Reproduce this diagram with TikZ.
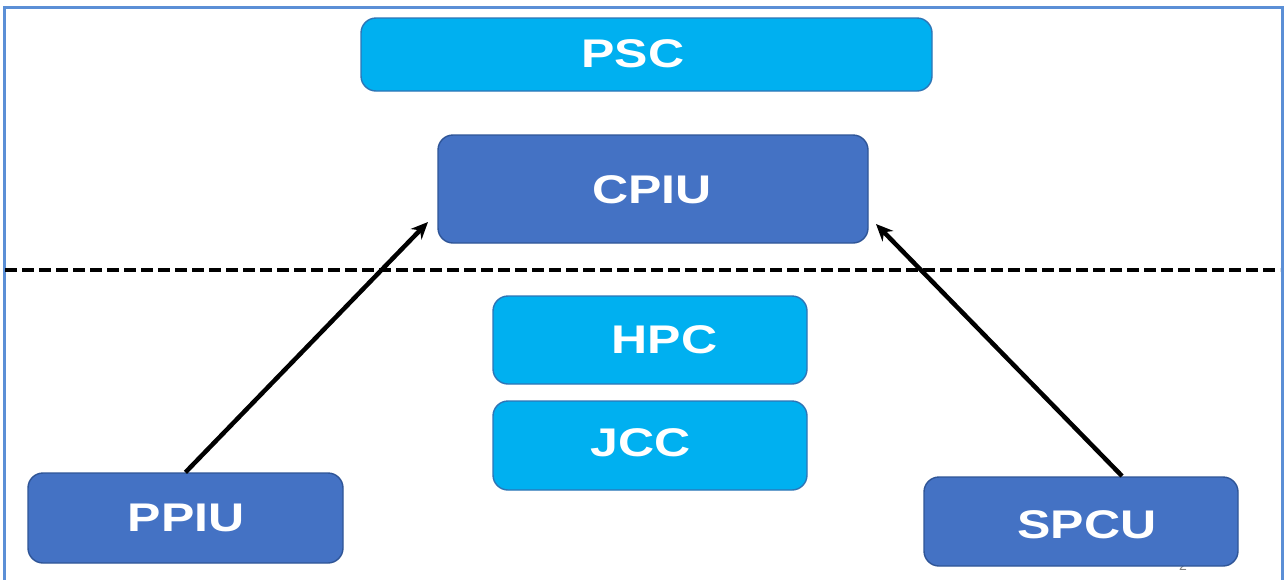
\documentclass[tikz,border=0pt]{standalone}
\usepackage{fontspec}
\setmainfont{Liberation Sans}
\usetikzlibrary{arrows.meta}
\definecolor{lblue}{HTML}{00B0F0}
\definecolor{lblueb}{HTML}{2E75B6}
\definecolor{dblue}{HTML}{4472C4}
\definecolor{dblueb}{HTML}{2F5597}
\definecolor{frame}{HTML}{5B8FD6}
\tikzset{
  lbox/.style={draw=lblueb, line width=1.4pt, fill=lblue, rounded corners=15pt, inner sep=0pt},
  dbox/.style={draw=dblueb, line width=1.4pt, fill=dblue, rounded corners=15pt, inner sep=0pt},
  lbl/.style={text=white, inner sep=0pt, anchor=center, font=\bfseries\fontsize{40}{40}\selectfont},
  conn/.style={line width=4.5pt, -{Stealth[length=17pt,width=15pt]}},
  sep/.style={line width=3.2pt, dash pattern=on 12pt off 5pt}
}
\newcommand{\wtxt}[1]{\scalebox{1.25}[1]{#1}}
\begin{document}
\begin{tikzpicture}[x=1pt,y=-1pt]
\useasboundingbox (0,0) rectangle (1285,579);
\fill[white] (0,0) rectangle (1285,579);
\draw[frame, line width=3pt] (4,600) -- (4,7) -- (1282,7) -- (1282,600);
% slide number, mostly hidden
\node[text=gray, font=\fontsize{14}{14}\selectfont] (num) at (1183,566) {2};
% boxes
\node[lbox, minimum width=571pt, minimum height=73pt] (psc) at (646.5,54.5) {};
\node[dbox, minimum width=430pt, minimum height=108pt] (cpiu) at (653,189) {};
\node[lbox, minimum width=314pt, minimum height=88pt] (hpc) at (650,340) {};
\node[lbox, minimum width=314pt, minimum height=89pt] (jcc) at (650,445.5) {};
\node[dbox, minimum width=315pt, minimum height=90pt] (ppiu) at (185.5,518) {};
\node[dbox, minimum width=314pt, minimum height=89pt] (spcu) at (1081,521.5) {};
% labels
\node[lbl] (tpsc) at (633,53.5) {\wtxt{PSC}};
\node[lbl] (tcpiu) at (652,189.5) {\wtxt{CPIU}};
\node[lbl] (thpc) at (664.5,339.5) {\wtxt{HPC}};
\node[lbl] (tjcc) at (640.5,442.5) {\wtxt{JCC}};
\node[lbl] (tppiu) at (186,518) {\wtxt{PPIU}};
\node[lbl] (tspcu) at (1087,524.5) {\wtxt{SPCU}};
% separator
\coordinate (sl) at (5,270);
\coordinate (sr) at (1280,270);
\draw[sep] (sl) -- (sr);
% arrows
\coordinate (a1) at (428,222);
\coordinate (s2) at (1122,476);
\coordinate (a2) at (876,224);
\draw[conn] (ppiu.north) -- (a1);
\draw[conn] (s2) -- (a2);
\end{tikzpicture}
\end{document}
